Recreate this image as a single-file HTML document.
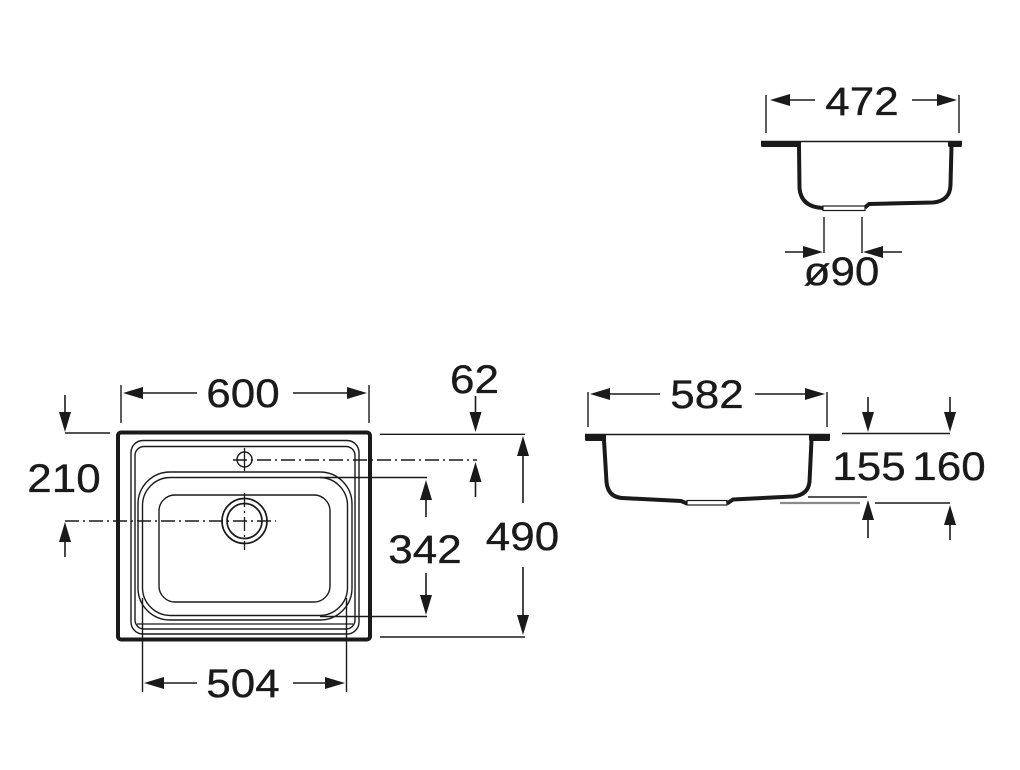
<!DOCTYPE html>
<html>
<head>
<meta charset="utf-8">
<style>
  html,body{margin:0;padding:0;background:#fff;}
  body{width:1020px;height:770px;overflow:hidden;}
  svg{display:block;}
  text{font-family:"Liberation Sans", Arial, sans-serif;font-size:40px;fill:#1a1a1a;stroke:#1a1a1a;stroke-width:0.35px;text-anchor:middle;}
</style>
</head>
<body>
<svg width="1020" height="770" viewBox="0 0 1020 770" xmlns="http://www.w3.org/2000/svg">
  <rect width="1020" height="770" fill="#fff"/>

  <!-- ================= PLAN VIEW ================= -->
  <g fill="none" stroke="#1a1a1a">
    <rect x="118" y="432.5" width="252" height="207" rx="3" stroke-width="4"/>
    <rect x="131" y="440.5" width="228" height="193.5" rx="12" stroke-width="1.4"/>
    <rect x="135" y="446.5" width="220" height="182.5" rx="9" stroke-width="1.4"/>
    <line x1="137" y1="624" x2="353" y2="624" stroke-width="1.3"/>
    <rect x="138" y="472" width="214" height="148" rx="32" stroke-width="1.4"/>
    <rect x="142.5" y="477.5" width="205" height="138" rx="28" stroke-width="1.4"/>
    <rect x="159" y="495" width="171" height="107" rx="16" stroke-width="1.4"/>
    <circle cx="244.5" cy="459.5" r="7.5" stroke-width="1.4"/>
    <line x1="244.5" y1="448" x2="244.5" y2="471" stroke-width="1.3"/>
    <circle cx="244.5" cy="521" r="22.5" stroke-width="1.7"/>
    <circle cx="244.5" cy="521" r="17.5" stroke-width="1.7"/>
    <line x1="244.5" y1="493" x2="244.5" y2="550" stroke-width="1.3" stroke-dasharray="14 4 2 4"/>

    <line x1="233" y1="460" x2="477" y2="460" stroke-width="1.4" stroke-dasharray="14 4 2 4"/>
    <line x1="65" y1="521" x2="276" y2="521" stroke-width="1.4" stroke-dasharray="14 4 2 4"/>

    <line x1="121" y1="385" x2="121" y2="423" stroke-width="1.4"/>
    <line x1="369" y1="385" x2="369" y2="423" stroke-width="1.4"/>
    <line x1="142.5" y1="598" x2="142.5" y2="692" stroke-width="1.4"/>
    <line x1="346.5" y1="598" x2="346.5" y2="692" stroke-width="1.4"/>
    <line x1="65" y1="433" x2="110" y2="433" stroke-width="1.4"/>
    <line x1="380" y1="434.3" x2="525" y2="434.3" stroke-width="1.4"/>
    <line x1="320" y1="477.5" x2="427" y2="477.5" stroke-width="1.4"/>
    <line x1="320" y1="616.5" x2="427" y2="616.5" stroke-width="1.4"/>
    <line x1="380" y1="637" x2="525" y2="637" stroke-width="1.4"/>

    <line x1="135" y1="393" x2="197" y2="393" stroke-width="1.6"/>
    <line x1="293" y1="393" x2="355" y2="393" stroke-width="1.6"/>
    <line x1="156" y1="683" x2="197" y2="683" stroke-width="1.6"/>
    <line x1="293" y1="683" x2="333" y2="683" stroke-width="1.6"/>
    <line x1="65" y1="395" x2="65" y2="420" stroke-width="1.6"/>
    <line x1="65" y1="534" x2="65" y2="557" stroke-width="1.6"/>
    <line x1="475.5" y1="396" x2="475.5" y2="420" stroke-width="1.6"/>
    <line x1="475.5" y1="474" x2="475.5" y2="497" stroke-width="1.6"/>
    <line x1="426" y1="492" x2="426" y2="517" stroke-width="1.6"/>
    <line x1="426" y1="573" x2="426" y2="603" stroke-width="1.6"/>
    <line x1="523" y1="448" x2="523" y2="503" stroke-width="1.6"/>
    <line x1="523" y1="567" x2="523" y2="623" stroke-width="1.6"/>
  </g>
  <g fill="#1a1a1a">
    <polygon points="123,393 143,387 143,399"/>
    <polygon points="367,393 347,387 347,399"/>
    <polygon points="144,683 164,677 164,689"/>
    <polygon points="345,683 325,677 325,689"/>
    <polygon points="65,432 59,412 71,412"/>
    <polygon points="65,522 59,542 71,542"/>
    <polygon points="475.5,432 469.5,412 481.5,412"/>
    <polygon points="475.5,462 469.5,482 481.5,482"/>
    <polygon points="426,480 420,500 432,500"/>
    <polygon points="426,615 420,595 432,595"/>
    <polygon points="523,436 517,456 529,456"/>
    <polygon points="523,635 517,615 529,615"/>
  </g>
  <text transform="translate(243,407) scale(1.1,1)">600</text>
  <text transform="translate(243,697) scale(1.1,1)">504</text>
  <text transform="translate(64,492) scale(1.1,1)">210</text>
  <text transform="translate(474.5,393) scale(1.1,1)">62</text>
  <text transform="translate(425,563) scale(1.1,1)">342</text>
  <text transform="translate(522.5,550) scale(1.1,1)">490</text>

  <!-- ================= SIDE SECTION (582) ================= -->
  <g fill="none" stroke="#1a1a1a">
    <line x1="585" y1="434.5" x2="830" y2="434.5" stroke-width="1.5"/>
    <path d="M604 440 L606.5 482 Q608 497 622 498 L681 501 L687 503.5" stroke-width="4" stroke-linejoin="round"/>
    <path d="M727 503.5 L733 499.5 L793 496.5 Q808 495 809.5 482 L811.5 440" stroke-width="4" stroke-linejoin="round"/>
    <rect x="687" y="500.5" width="40" height="4.5" stroke-width="1.2"/>
    <line x1="588" y1="392" x2="588" y2="427" stroke-width="1.4"/>
    <line x1="827" y1="392" x2="827" y2="427" stroke-width="1.4"/>
    <line x1="842" y1="433.5" x2="950" y2="433.5" stroke-width="1.4"/>
    <line x1="808" y1="497" x2="867" y2="497" stroke-width="1.4"/>
    <line x1="875" y1="503" x2="950" y2="503" stroke-width="1.4"/>
    <line x1="780" y1="503" x2="860" y2="503" stroke="#8a8a8a" stroke-width="2.2"/>
    <line x1="602" y1="394" x2="660" y2="394" stroke-width="1.6"/>
    <line x1="755" y1="394" x2="813" y2="394" stroke-width="1.6"/>
    <line x1="868" y1="397" x2="868" y2="420" stroke-width="1.6"/>
    <line x1="950" y1="397" x2="950" y2="420" stroke-width="1.6"/>
    <line x1="868" y1="512" x2="868" y2="538" stroke-width="1.6"/>
    <line x1="950" y1="517" x2="950" y2="540" stroke-width="1.6"/>
  </g>
  <g fill="#1a1a1a">
    <rect x="585" y="434" width="21" height="7" rx="1.5"/>
    <rect x="809" y="434" width="21" height="7" rx="1.5"/>
    <polygon points="590,394 610,388 610,400"/>
    <polygon points="825,394 805,388 805,400"/>
    <polygon points="868,432 862,412 874,412"/>
    <polygon points="950,432 944,412 956,412"/>
    <polygon points="868,500 862,520 874,520"/>
    <polygon points="950,505 944,525 956,525"/>
  </g>
  <text transform="translate(707,408) scale(1.1,1)">582</text>
  <text transform="translate(869,480) scale(1.1,1)">155</text>
  <text transform="translate(949,480) scale(1.1,1)">160</text>

  <!-- ================= TOP SECTION (472) ================= -->
  <g fill="none" stroke="#1a1a1a">
    <line x1="761" y1="141.5" x2="962" y2="141.5" stroke-width="1.5"/>
    <path d="M799 146 L799.5 188 Q801 207 823 208" stroke-width="4" stroke-linejoin="round"/>
    <path d="M865 207.5 L869 204 L933 202.5 Q950 201 950.5 185 L951.5 146" stroke-width="4" stroke-linejoin="round"/>
    <rect x="823" y="206" width="42" height="4.5" stroke-width="1.2"/>
    <line x1="766" y1="95" x2="766" y2="133" stroke-width="1.4"/>
    <line x1="959" y1="95" x2="959" y2="133" stroke-width="1.4"/>
    <line x1="824" y1="217" x2="824" y2="253" stroke-width="1.4"/>
    <line x1="862" y1="217" x2="862" y2="253" stroke-width="1.4"/>
    <line x1="782" y1="100" x2="815" y2="100" stroke-width="1.6"/>
    <line x1="912" y1="100" x2="945" y2="100" stroke-width="1.6"/>
    <line x1="785" y1="252" x2="811" y2="252" stroke-width="1.6"/>
    <line x1="875" y1="252" x2="902" y2="252" stroke-width="1.6"/>
  </g>
  <g fill="#1a1a1a">
    <rect x="761" y="141" width="40" height="6" rx="1.5"/>
    <rect x="948" y="141" width="14" height="6" rx="1.5"/>
    <polygon points="770,100 790,94 790,106"/>
    <polygon points="957,100 937,94 937,106"/>
    <polygon points="823,252 803,246 803,258"/>
    <polygon points="863,252 883,246 883,258"/>
  </g>
  <text transform="translate(862,115) scale(1.1,1)">472</text>
  <text transform="translate(841.5,285) scale(1.1,1)">ø90</text>
</svg>
</body>
</html>
